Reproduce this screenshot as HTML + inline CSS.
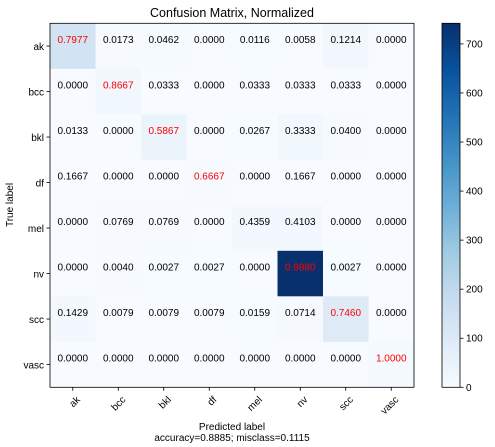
<!DOCTYPE html>
<html><head><meta charset="utf-8"><style>
html,body{margin:0;padding:0;background:#fff;}
svg{display:block;font-family:"Liberation Sans","DejaVu Sans",sans-serif;}
</style></head><body>
<svg id="chart" width="495" height="447" viewBox="0 0 495 447"></svg>
<script>
const classes = ["ak","bcc","bkl","df","mel","nv","scc","vasc"];
const normValues = [
 [0.7977,0.0173,0.0462,0.0000,0.0116,0.0058,0.1214,0.0000],
 [0.0000,0.8667,0.0333,0.0000,0.0333,0.0333,0.0333,0.0000],
 [0.0133,0.0000,0.5867,0.0000,0.0267,0.3333,0.0400,0.0000],
 [0.1667,0.0000,0.0000,0.6667,0.0000,0.1667,0.0000,0.0000],
 [0.0000,0.0769,0.0769,0.0000,0.4359,0.4103,0.0000,0.0000],
 [0.0000,0.0040,0.0027,0.0027,0.0000,0.9880,0.0027,0.0000],
 [0.1429,0.0079,0.0079,0.0079,0.0159,0.0714,0.7460,0.0000],
 [0.0000,0.0000,0.0000,0.0000,0.0000,0.0000,0.0000,1.0000]
];
const rowTotals = [173,30,75,6,39,750,126,10];
const colorbarTicks = [0,100,200,300,400,500,600,700];
const colorbarMax = 742;

const NS="http://www.w3.org/2000/svg";
const svg=document.getElementById('chart');
function mk(tag,attrs,parent){const e=document.createElementNS(NS,tag);for(const k in attrs)e.setAttribute(k,attrs[k]);(parent||svg).appendChild(e);return e;}
const stops=["#f7fbff","#deebf7","#c6dbef","#9ecae1","#6baed6","#4292c6","#2171b5","#08519c","#08306b"];
function hex(h){return [1,3,5].map(i=>parseInt(h.substr(i,2),16));}
function blues(t){t=Math.max(0,Math.min(1,t));const p=t*8;const i=Math.min(7,Math.floor(p));const f=p-i;const a=hex(stops[i]),b=hex(stops[i+1]);return "rgb("+a.map((v,k)=>Math.round(v+(b[k]-v)*f)).join(",")+")";}

const x0=50,y0=23.3,W=364,H=364,n=classes.length,cw=W/n,ch=H/n;
const xScale=j=>x0+j*cw, yScale=i=>y0+i*ch;
const cbX=442,cbW=18;
const cbY=v=>y0+H-v/colorbarMax*H;

let t=mk('text',{x:232,y:17,'text-anchor':'middle','font-size':12.5,fill:'#000'});t.textContent="Confusion Matrix, Normalized";



const counts=normValues.map((r,i)=>r.map(v=>Math.round(v*rowTotals[i])));
counts.forEach((row,i)=>row.forEach((c,j)=>{
 const r=mk('rect',{x:xScale(j),y:yScale(i),width:cw+0.5,height:ch+0.5,fill:blues(c/colorbarMax)});
 
 
}));
normValues.forEach((row,i)=>row.forEach((v,j)=>{
 const tx=mk('text',{x:xScale(j)+cw/2,y:yScale(i)+ch/2-3,'text-anchor':'middle','font-size':10,fill:v>0.5?'#ff0000':'#000'});
 tx.textContent=v.toFixed(4);
 
 
}));
let fr=mk('rect',{x:x0,y:y0,width:W,height:H,fill:'none',stroke:'#000','stroke-width':0.8});



classes.forEach((c,k)=>{
 const cy=yScale(k)+ch/2;
 mk('line',{x1:x0-3.5,x2:x0,y1:cy,y2:cy,stroke:'#000','stroke-width':0.8});
 const yl=mk('text',{x:x0-6,y:cy+4,'text-anchor':'end','font-size':10,fill:'#000'});yl.textContent=c;
 
 
 const cx=xScale(k)+cw/2;
 mk('line',{x1:cx,x2:cx,y1:y0+H,y2:y0+H+3.5,stroke:'#000','stroke-width':0.8});
 const xl=mk('text',{x:0,y:0,'text-anchor':'end','font-size':10,fill:'#000',transform:'translate('+(cx+3)+','+(y0+H+8)+') rotate(-45)'});
 xl.setAttribute('dy','0.7em');
 xl.textContent=c;
 
 
});
let yt=mk('text',{x:0,y:0,'text-anchor':'middle','font-size':10,fill:'#000',transform:'translate(13,205) rotate(-90)'});yt.textContent="True label";


let xt=mk('text',{x:232,y:430,'text-anchor':'middle','font-size':10,fill:'#000'});xt.textContent="Predicted label";


let xt2=mk('text',{x:232,y:441,'text-anchor':'middle','font-size':10,fill:'#000'});xt2.textContent="accuracy=0.8885; misclass=0.1115";



const defs=mk('defs',{});const g=mk('linearGradient',{id:'cbg',x1:0,y1:1,x2:0,y2:0},defs);
stops.forEach((s,k)=>mk('stop',{offset:k/8,'stop-color':s},g));
let cb=mk('rect',{x:cbX,y:y0,width:cbW,height:H,fill:'url(#cbg)',stroke:'#000','stroke-width':0.8});


colorbarTicks.forEach(v=>{
 const yy=cbY(v);
 mk('line',{x1:cbX+cbW,x2:cbX+cbW+3.5,y1:yy,y2:yy,stroke:'#000','stroke-width':0.8});
 const l=mk('text',{x:cbX+cbW+6,y:yy+3.5,'font-size':10,fill:'#000'});l.textContent=v;
 
 
});
</script>
</body></html>
